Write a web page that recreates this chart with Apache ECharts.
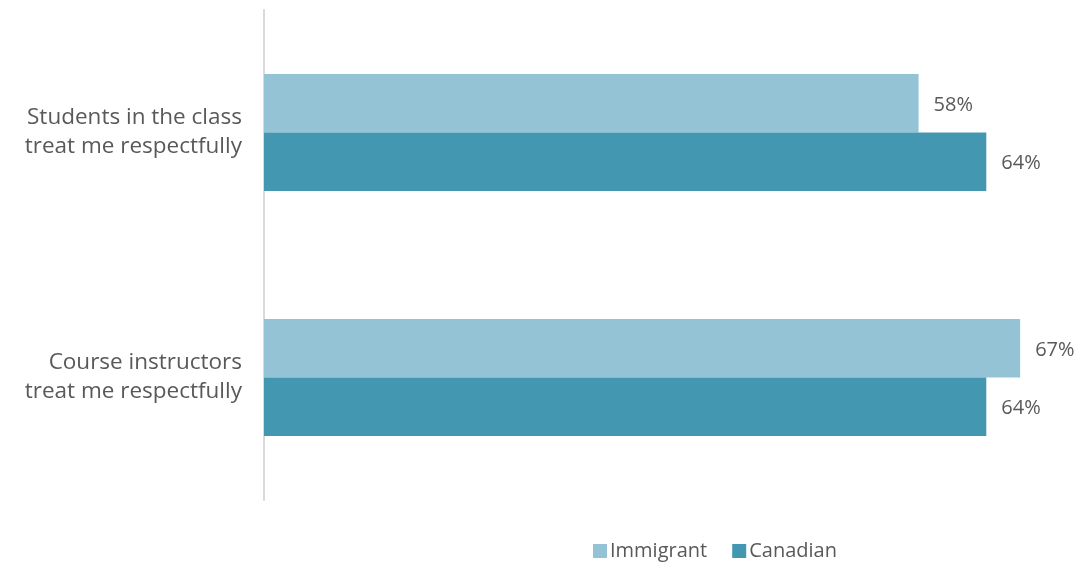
<!DOCTYPE html>
<html>
<head>
<meta charset="utf-8">
<style>
  html, body { margin: 0; padding: 0; background: #ffffff; }
  #chart { width: 1080px; height: 563px; }
</style>
<script src="https://cdn.jsdelivr.net/npm/echarts@6/dist/echarts.min.js"></script>
</head>
<body>
<div id="chart"></div>
<script>
// Statements shown on the category axis (top to bottom)
const categories = [
  'Students in the class\ntreat me respectfully',
  'Course instructors\ntreat me respectfully'
];
// Share of students agreeing, in percent
const immigrant = [58, 67];
const canadian = [64, 64];
const seriesNames = ['Immigrant', 'Canadian'];

const FONT = '"Open Sans", Lato, sans-serif';
const TEXT = '#595959';

const chart = echarts.init(document.getElementById('chart'), null, { renderer: 'canvas' });

const valueLabel = {
  show: true,
  position: 'right',
  distance: 15,
  offset: [0, 2],
  formatter: '{c}%',
  color: TEXT,
  fontFamily: FONT,
  fontSize: 20
};

chart.setOption({
  animation: false,
  textStyle: { fontFamily: FONT },
  grid: { left: 264, top: 10, width: 790, height: 490, containLabel: false },
  legend: {
    data: seriesNames,
    bottom: -3,
    left: 588,
    itemWidth: 14,
    itemHeight: 14,
    itemGap: 25,
    icon: 'rect',
    textStyle: { color: TEXT, fontSize: 20, fontFamily: FONT, padding: [0, 0, 0, -2] }
  },
  xAxis: {
    type: 'value',
    min: 0,
    max: 70,
    show: false
  },
  yAxis: {
    type: 'category',
    data: categories,
    inverse: true,
    axisLine: { show: true, lineStyle: { color: '#d9d9d9', width: 2 } },
    axisTick: { show: false },
    axisLabel: {
      color: TEXT,
      fontFamily: FONT,
      fontSize: 22.5,
      lineHeight: 29,
      margin: 22,
      align: 'right',
      padding: [4, 0, 0, 0]
    }
  },
  series: [
    {
      name: seriesNames[0],
      type: 'bar',
      data: immigrant,
      barWidth: 58.5,
      barGap: '0%',
      itemStyle: { color: '#93c3d4' },
      label: valueLabel
    },
    {
      name: seriesNames[1],
      type: 'bar',
      data: canadian,
      barWidth: 58.5,
      barGap: '0%',
      itemStyle: { color: '#4397b0' },
      label: valueLabel
    }
  ]
});
</script>
</body>
</html>
